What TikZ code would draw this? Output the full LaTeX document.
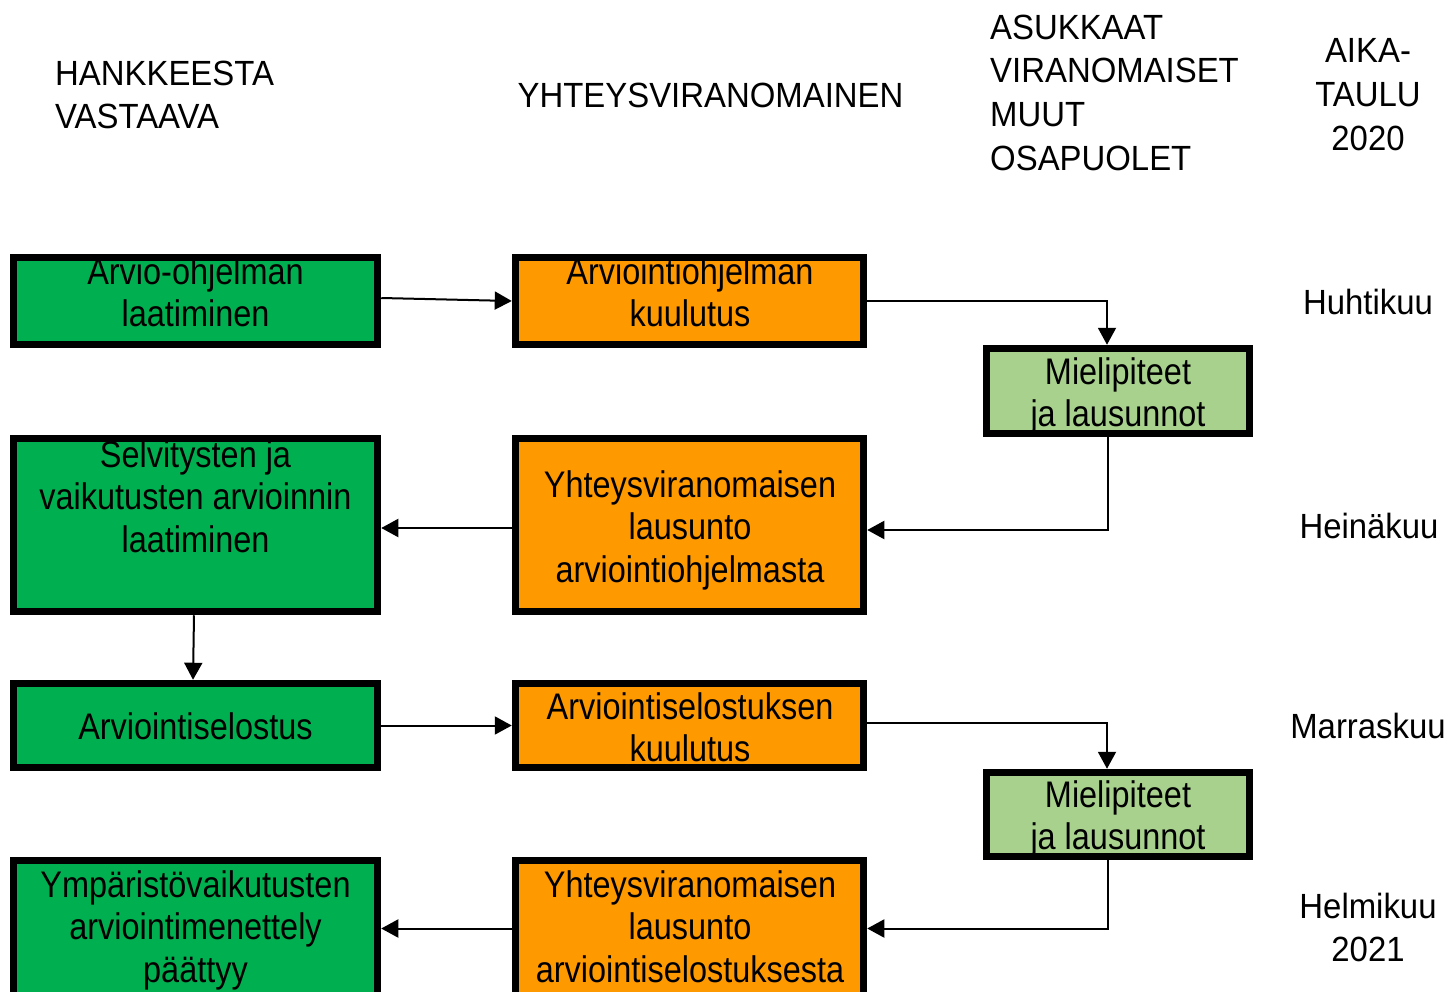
\documentclass[tikz,border=0pt]{standalone}
\usepackage{fontspec}
\setmainfont{Liberation Sans}[FakeStretch=0.94]
\newfontfamily\boxfont{Liberation Sans}[FakeStretch=0.877]
\usetikzlibrary{arrows.meta}
\definecolor{phasegreen}{HTML}{00B050}
\definecolor{phaseorange}{HTML}{FF9900}
\definecolor{phaselight}{HTML}{A9D18E}
\begin{document}
\begin{tikzpicture}[x=1pt,y=-1pt,
  box/.style={draw=black, line width=7.5pt, inner sep=0pt, rectangle},
  gbox/.style={box, fill=phasegreen, minimum width=364pt},
  obox/.style={box, fill=phaseorange, minimum width=348pt},
  lbox/.style={box, fill=phaselight, minimum width=263pt},
  boxtxt/.style={anchor=north, align=center, inner sep=0pt,
    font=\boxfont\fontsize{37}{42.5}\selectfont},
  hdr/.style={inner sep=0pt, font=\fontsize{35}{43.7}\selectfont},
  conn/.style={line width=2pt, -{Triangle[length=17pt,width=18pt]}}]
\useasboundingbox (0,0) rectangle (1448,992);

% phase boxes
\node[gbox, minimum height=87pt]  (g1) at (195.5,301) {};
\node[obox, minimum height=87pt]  (o1) at (689.5,301) {};
\node[lbox, minimum height=85pt]  (l1) at (1118,391) {};
\node[gbox, minimum height=173pt] (g2) at (195.5,525) {};
\node[obox, minimum height=173pt] (o2) at (689.5,525) {};
\node[gbox, minimum height=84pt]  (g3) at (195.5,725.5) {};
\node[obox, minimum height=84pt]  (o3) at (689.5,725.5) {};
\node[lbox, minimum height=84pt]  (l2) at (1118,814.5) {};
\node[gbox, minimum height=136pt] (g4) at (195.5,928.5) {};
\node[obox, minimum height=136pt] (o4) at (689.5,928.5) {};

% box texts
\node[boxtxt] (tg1) at (195.5,257) {Arvio-ohjelman\\laatiminen};
\node[boxtxt] (to1) at (690,257) {Arviointiohjelman\\kuulutus};
\node[boxtxt] (tl1) at (1118,357) {Mielipiteet\\ja lausunnot};
\node[boxtxt] (tg2) at (195.5,440) {Selvitysten ja\\vaikutusten arvioinnin\\laatiminen};
\node[boxtxt] (to2) at (690,470) {Yhteysviranomaisen\\lausunto\\arviointiohjelmasta};
\node[boxtxt] (tg3) at (195.5,712) {Arviointiselostus};
\node[boxtxt] (to3) at (690,692) {Arviointiselostuksen\\kuulutus};
\node[boxtxt] (tl2) at (1118,780) {Mielipiteet\\ja lausunnot};
\node[boxtxt] (tg4) at (195.5,870) {Ympäristövaikutusten\\arviointimenettely\\päättyy};
\node[boxtxt] (to4) at (690,870) {Yhteysviranomaisen\\lausunto\\arviointiselostuksesta};

% connectors
\draw[conn] ([yshift=3pt]g1.east) -- (o1.west);
\draw[conn] (o1.east) -| ([xshift=-11pt]l1.north);
\draw[conn] ([xshift=-10pt]l1.south) |- ([yshift=-5pt]o2.east);
\draw[conn] ([yshift=-3pt]o2.west) -- ([yshift=-3pt]g2.east);
\draw[conn] ([xshift=-1.5pt]g2.south) -- ([xshift=-2.5pt]g3.north);
\draw[conn] (g3.east) -- (o3.west);
\draw[conn] ([yshift=2.5pt]o3.east) -| ([xshift=-11pt]l2.north);
\draw[conn] ([xshift=-10pt]l2.south) |- (o4.east);
\draw[conn] (o4.west) -- (g4.east);

% column headings
\node[hdr, anchor=north west, align=left] (hhv) at (55,60.5) {HANKKEESTA\\VASTAAVA};
\node[hdr, anchor=north] (hyv) at (710.5,82.5) {YHTEYSVIRANOMAINEN};
\node[hdr, anchor=north west, align=left] (has) at (990,14.5) {ASUKKAAT\\VIRANOMAISET\\MUUT\\OSAPUOLET};
\node[hdr, anchor=north, align=center] (hat) at (1368,38.5) {AIKA-\\TAULU\\2020};

% schedule
\node[hdr, anchor=north] (m1) at (1368,288.5) {Huhtikuu};
\node[hdr, anchor=north] (m2) at (1369,512.5) {Heinäkuu};
\node[hdr, anchor=north] (m3) at (1368,712.5) {Marraskuu};
\node[hdr, anchor=north, align=center] (m4) at (1368,892.5) {Helmikuu\\2021};
\end{tikzpicture}
\end{document}
